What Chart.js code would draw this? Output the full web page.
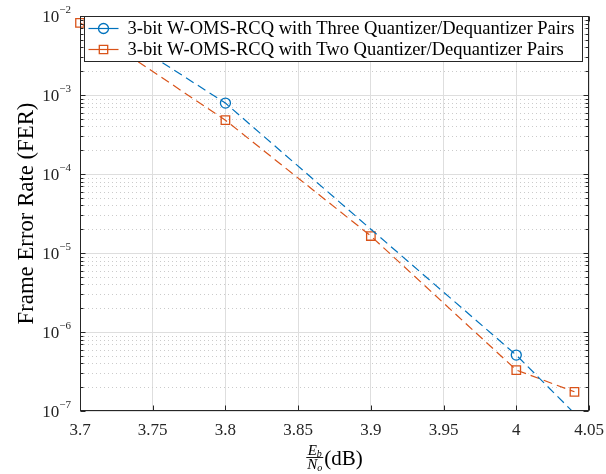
<!DOCTYPE html>
<html><head><meta charset="utf-8">
<script src="https://cdn.jsdelivr.net/npm/chart.js@4/dist/chart.umd.min.js"></script>
<style>html,body{margin:0;padding:0;background:#fff;overflow:hidden;width:606px;height:474px;}canvas{display:block;}</style>
</head><body>
<canvas id="c" width="606" height="474"></canvas>
<script>
// ---- data ----
const labelThree = '3-bit W-OMS-RCQ with Three Quantizer/Dequantizer Pairs';
const labelTwo = '3-bit W-OMS-RCQ with Two Quantizer/Dequantizer Pairs';
const ebnoThree = [3.7, 3.8, 3.9, 4.0, 4.05];
const ferThree = [1.2e-2, 7.9e-4, 2.0e-5, 5.1e-7, 6.1e-8];
const markedThree = [3.8, 4.0];
const ebnoTwo = [3.7, 3.8, 3.9, 4.0, 4.04];
const ferTwo = [8.2e-3, 4.8e-4, 1.64e-5, 3.3e-7, 1.75e-7];
const markedTwo = [3.7, 3.8, 3.9, 4.0, 4.04];
const xTickValues = [3.7, 3.75, 3.8, 3.85, 3.9, 3.95, 4.0, 4.05];
const xTickLabels = ['3.7', '3.75', '3.8', '3.85', '3.9', '3.95', '4', '4.05'];
const yDecadeExponents = [-7, -6, -5, -4, -3, -2];
const yTitle = 'Frame Error Rate (FER)';

// ---- style / layout ----
const BLUE = '#0072BD', ORANGE = '#D95319', AXC = '#262626';
const SERIF = '"Liberation Serif", "DejaVu Serif", serif';
const TARGET = {left: 80, right: 589, top: 16, bottom: 411};
const lay = {yWidth: 80, xHeight: 63, padTop: 16, padRight: 17};

const isMarked = (list) => (c) => (c.raw && list.some(v => Math.abs(v - c.raw.x) < 1e-9)) ? 1 : 0;

const mlPlugin = {
  id: 'ml',
  beforeDatasetsDraw(chart) {
    const {ctx, chartArea: a, scales: {y}} = chart;
    ctx.save();
    ctx.lineWidth = 1;
    ctx.strokeStyle = '#cbcbcb';
    ctx.setLineDash([1, 3]);
    for (const e of yDecadeExponents) {
      if (e >= -2) continue;
      for (let k = 2; k <= 9; k++) {
        const py = Math.round(y.getPixelForValue(k * Math.pow(10, e))) + 0.5;
        ctx.beginPath(); ctx.moveTo(a.left, py); ctx.lineTo(a.right, py); ctx.stroke();
      }
    }
    ctx.setLineDash([]);
    ctx.strokeStyle = '#dedede';
    for (const e of yDecadeExponents) {
      const py = Math.round(y.getPixelForValue(Math.pow(10, e))) + 0.5;
      ctx.beginPath(); ctx.moveTo(a.left, py); ctx.lineTo(a.right, py); ctx.stroke();
    }
    ctx.restore();
  },
  afterDatasetsDraw(chart) {
    const {ctx, chartArea: a, scales: {x, y}} = chart;
    ctx.save();
    ctx.strokeStyle = AXC; ctx.lineWidth = 1; ctx.setLineDash([]);
    const L = Math.round(a.left) + 0.5, R = Math.round(a.right) - 0.5;
    const T = Math.round(a.top) + 0.5, B = Math.round(a.bottom) - 0.5;
    ctx.strokeRect(L, T, R - L, B - T);
    for (const v of xTickValues) {
      const px = Math.round(x.getPixelForValue(v)) + 0.5;
      ctx.beginPath(); ctx.moveTo(px, B); ctx.lineTo(px, B - 5); ctx.moveTo(px, T); ctx.lineTo(px, T + 5); ctx.stroke();
    }
    for (const e of yDecadeExponents) {
      for (let k = 1; k <= 9; k++) {
        const v = k * Math.pow(10, e);
        if (v > 1.0001e-2) continue;
        const py = Math.round(y.getPixelForValue(v)) + 0.5;
        const len = k === 1 ? 5 : 3;
        ctx.beginPath(); ctx.moveTo(L, py); ctx.lineTo(L + len, py); ctx.moveTo(R, py); ctx.lineTo(R - len, py); ctx.stroke();
      }
    }
    // legend
    const lx0 = Math.round(a.left) + 4.5, ly0 = Math.round(a.top) + 0.5;
    const lx1 = Math.round(a.right) - 6.5, ly1 = ly0 + 45;
    ctx.fillStyle = '#fff';
    ctx.fillRect(lx0, ly0, lx1 - lx0, ly1 - ly0);
    ctx.strokeStyle = AXC;
    ctx.strokeRect(lx0, ly0, lx1 - lx0, ly1 - ly0);
    const ds = chart.data.datasets;
    const rowsY = [ly0 + 12, ly0 + 33];
    ctx.font = '15px ' + SERIF;
    const w15 = ctx.measureText(ds[0].label).width;
    const fs = 15 * 447 / w15;
    ds.forEach((d, i) => {
      const yy = rowsY[i];
      ctx.strokeStyle = d.borderColor; ctx.lineWidth = 1.2;
      ctx.beginPath(); ctx.moveTo(lx0 + 4, yy); ctx.lineTo(lx0 + 34, yy); ctx.stroke();
      ctx.lineWidth = 1.3;
      ctx.beginPath();
      if (d.pointStyle === 'circle') { ctx.arc(lx0 + 19, yy, 5, 0, Math.PI * 2); }
      else { ctx.rect(lx0 + 19 - 4.2, yy - 4.2, 8.4, 8.4); }
      ctx.stroke();
      ctx.fillStyle = '#000';
      ctx.font = fs.toFixed(2) + 'px ' + SERIF;
      ctx.textBaseline = 'middle'; ctx.textAlign = 'left';
      ctx.fillText(d.label, lx0 + 43, yy + 1);
    });
    ctx.restore();
  },
  afterDraw(chart) {
    const {ctx, chartArea: a, scales: {y}} = chart;
    ctx.save();
    ctx.fillStyle = AXC;
    for (const e of yDecadeExponents) {
      const py = y.getPixelForValue(Math.pow(10, e));
      const expStr = '\u2212' + Math.abs(e);
      ctx.font = '11px ' + SERIF;
      const we = ctx.measureText(expStr).width;
      ctx.font = '17px ' + SERIF;
      const wb = ctx.measureText('10').width;
      const xr = a.left - 9;
      ctx.textAlign = 'left'; ctx.textBaseline = 'alphabetic';
      ctx.fillText('10', xr - we - wb, py + 6);
      ctx.font = '11px ' + SERIF;
      ctx.fillText(expStr, xr - we, py - 3);
    }
    // y title
    ctx.fillStyle = '#000';
    ctx.font = '20px ' + SERIF;
    const wt = ctx.measureText(yTitle).width;
    const ft = 20 * 222 / wt;
    ctx.font = ft.toFixed(2) + 'px ' + SERIF;
    ctx.translate(33, (a.top + a.bottom) / 2);
    ctx.rotate(-Math.PI / 2);
    ctx.textAlign = 'center'; ctx.textBaseline = 'alphabetic';
    ctx.fillText(yTitle, 0, 0);
    ctx.setTransform(1, 0, 0, 1, 0, 0);
    // x title: Eb/No (dB)
    const cx = (a.left + a.right) / 2;
    const fIt = 'italic 15px ' + SERIF, fSub = 'italic 10px ' + SERIF, fMain = '21px ' + SERIF;
    ctx.font = fIt; const wE = ctx.measureText('E').width, wN = ctx.measureText('N').width;
    ctx.font = fSub; const wb2 = ctx.measureText('b').width, wo = ctx.measureText('o').width;
    ctx.font = fMain; const wdB = ctx.measureText('(dB)').width;
    const numW = wE + wb2, denW = wN + wo;
    const fw = Math.max(numW, denW) + 2;
    const total = fw + 1 + wdB;
    const x0 = cx - total / 2;
    ctx.textAlign = 'left'; ctx.textBaseline = 'alphabetic';
    const nx = x0 + (fw - numW) / 2;
    ctx.font = fIt; ctx.fillText('E', nx, 455);
    ctx.font = fSub; ctx.fillText('b', nx + wE, 457);
    const dx = x0 + (fw - denW) / 2;
    ctx.font = fIt; ctx.fillText('N', dx, 469);
    ctx.font = fSub; ctx.fillText('o', dx + wN, 471);
    ctx.fillRect(x0, 457, fw, 0.9);
    ctx.font = fMain; ctx.fillText('(dB)', x0 + fw + 1, 465);
    ctx.restore();
  }
};

const chart = new Chart(document.getElementById('c'), {
  type: 'line',
  data: {
    datasets: [
      {
        label: labelThree,
        data: ebnoThree.map((v, i) => ({x: v, y: ferThree[i]})),
        borderColor: BLUE, borderWidth: 1.2, borderDash: [9, 5],
        pointStyle: 'circle', pointRadius: (c) => 5 * isMarked(markedThree)(c),
        pointHoverRadius: 0,
        pointBorderColor: BLUE, pointBackgroundColor: 'rgba(0,0,0,0)', pointBorderWidth: 1.3,
        fill: false, tension: 0, clip: {left: 8, right: 8, top: 0, bottom: 0}
      },
      {
        label: labelTwo,
        data: ebnoTwo.map((v, i) => ({x: v, y: ferTwo[i]})),
        borderColor: ORANGE, borderWidth: 1.2, borderDash: [9, 5],
        pointStyle: 'rect', pointRadius: (c) => 6 * isMarked(markedTwo)(c),
        pointHoverRadius: 0,
        pointBorderColor: ORANGE, pointBackgroundColor: 'rgba(0,0,0,0)', pointBorderWidth: 1.3,
        fill: false, tension: 0, clip: {left: 8, right: 8, top: 0, bottom: 0}
      }
    ]
  },
  options: {
    responsive: false, animation: false, devicePixelRatio: 1,
    layout: {padding: {top: lay.padTop, right: lay.padRight, left: 0, bottom: 0}},
    plugins: {legend: {display: false}, tooltip: {enabled: false}},
    events: [],
    scales: {
      x: {
        type: 'linear', min: 3.7, max: 4.05,
        afterBuildTicks: (s) => { s.ticks = xTickValues.map(v => ({value: v})); },
        ticks: {
          callback: (v, i) => xTickLabels[i],
          font: {family: SERIF, size: 17}, color: AXC, padding: 9,
          maxRotation: 0, autoSkip: false
        },
        grid: {color: '#dedede', drawTicks: false, lineWidth: 1},
        border: {display: false},
        afterFit: (s) => { s.height = lay.xHeight; s.paddingLeft = 0; s.paddingRight = 0; }
      },
      y: {
        type: 'logarithmic', min: 1e-7, max: 1e-2,
        ticks: {display: false},
        grid: {display: false},
        border: {display: false},
        afterFit: (s) => { s.width = lay.yWidth; s.paddingTop = 0; s.paddingBottom = 0; }
      }
    }
  },
  plugins: [mlPlugin]
});

// snap the plot area to the target box
for (let it = 0; it < 3; it++) {
  const ca = chart.chartArea;
  const dl = TARGET.left - ca.left, dr = ca.right - TARGET.right;
  const dt = TARGET.top - ca.top, db = ca.bottom - TARGET.bottom;
  if (Math.abs(dl) < 0.5 && Math.abs(dr) < 0.5 && Math.abs(dt) < 0.5 && Math.abs(db) < 0.5) break;
  lay.yWidth += dl; lay.padRight = Math.max(0, lay.padRight + dr);
  lay.padTop = Math.max(0, lay.padTop + dt); lay.xHeight += db;
  chart.options.layout.padding = {top: lay.padTop, right: lay.padRight, left: 0, bottom: 0};
  chart.update();
}
</script>
</body></html>
